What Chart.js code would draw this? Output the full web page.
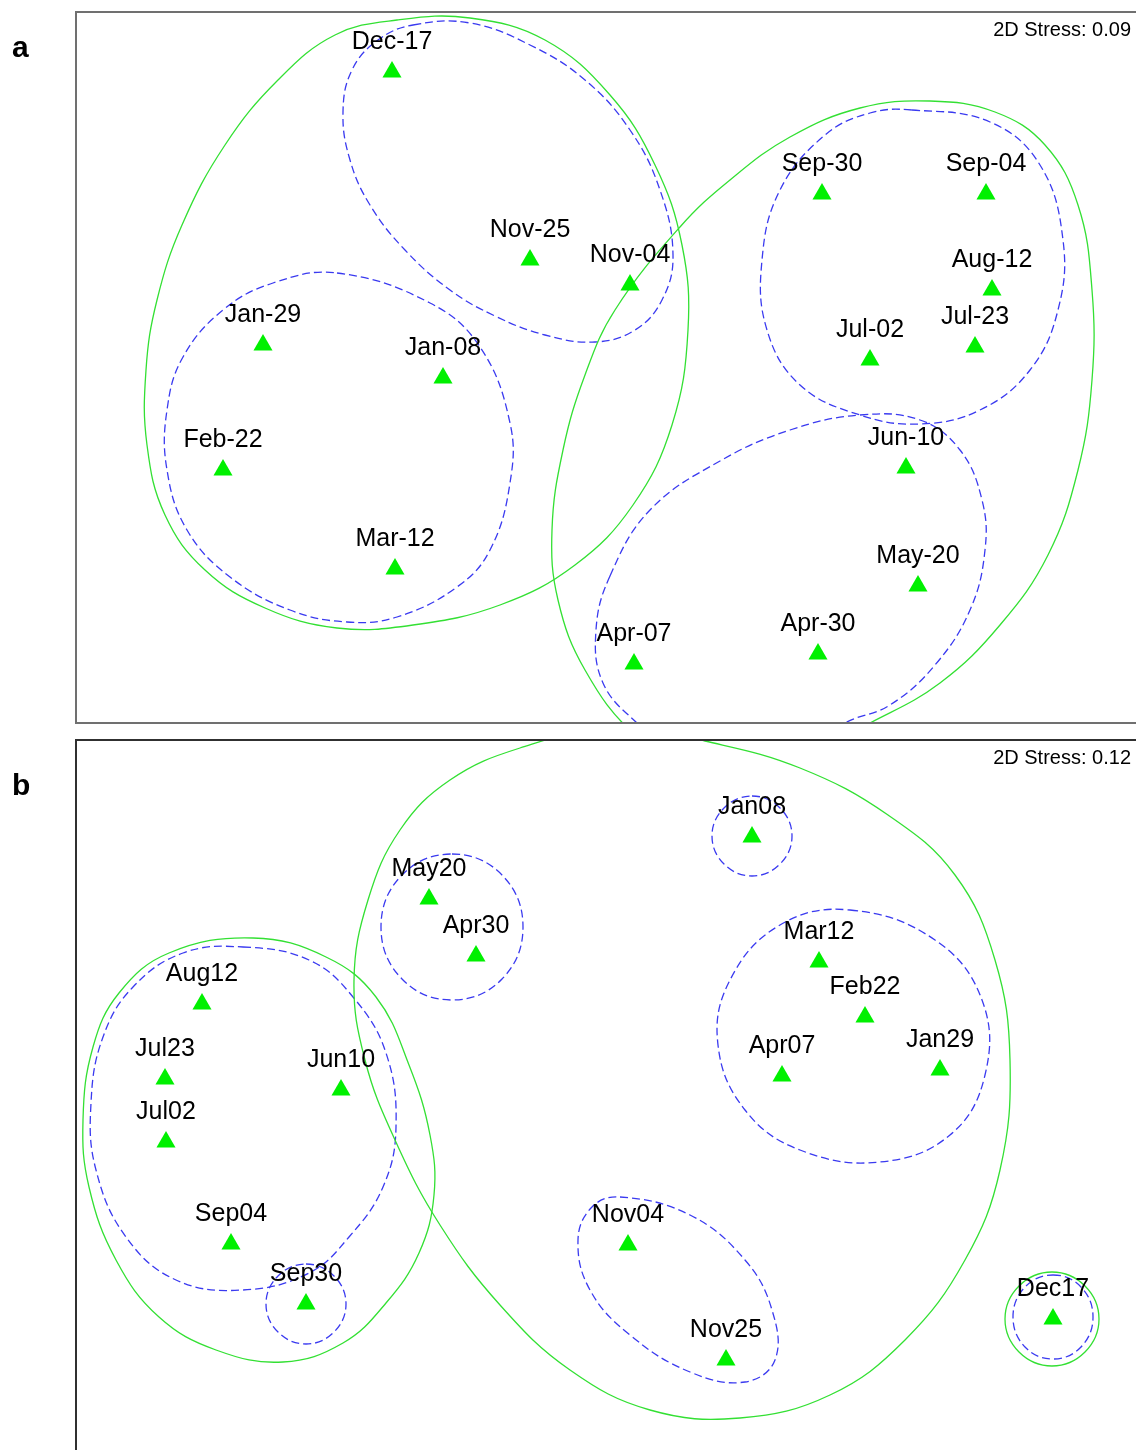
<!DOCTYPE html>
<html>
<head>
<meta charset="utf-8">
<script src="https://cdn.jsdelivr.net/npm/chart.js@4.4.1/dist/chart.umd.min.js"></script>
<style>
  body { margin: 0; background: #fff; }
  #wrap { position: relative; width: 1136px; height: 1450px; overflow: hidden; }
  canvas { position: absolute; left: 0; }
  #chartA { top: 0; }
  #chartB { top: 730px; }
</style>
</head>
<body>
<div id="wrap">
  <canvas id="chartA" width="1136" height="730"></canvas>
  <canvas id="chartB" width="1136" height="720"></canvas>
</div>
<script>
// NMDS ordination, panel a (positions, arbitrary units)
const aNames = ['Dec-17', 'Nov-25', 'Nov-04', 'Jan-29', 'Jan-08', 'Feb-22', 'Mar-12', 'Sep-30',
                'Sep-04', 'Aug-12', 'Jul-23', 'Jul-02', 'Jun-10', 'May-20', 'Apr-30', 'Apr-07'];
const aX = [392, 530, 630, 263, 443, 223, 395, 822, 986, 992, 975, 870, 906, 918, 818, 634];
const aY = [72, 260, 285, 345, 378, 470, 569, 194, 194, 290, 347, 360, 468, 586, 654, 664];

// panel b
const bNames = ['Jan08', 'May20', 'Apr30', 'Mar12', 'Feb22', 'Aug12', 'Jul23', 'Jun10',
                'Jul02', 'Apr07', 'Jan29', 'Sep04', 'Sep30', 'Nov04', 'Nov25', 'Dec17'];
const bX = [752, 429, 476, 819, 865, 202, 165, 341, 166, 782, 940, 231, 306, 628, 726, 1053];
const bY = [837, 899, 956, 962, 1017, 1004, 1079, 1090, 1142, 1076, 1070, 1244, 1304, 1245, 1360, 1319];

// similarity contours (outline points)
const aGreenLeft = [[335,35],[397,20],[470,18],[545,40],[610,95],[655,165],[682,245],[688,330],[672,425],
  [633,505],[575,565],[500,605],[413,625],[337,628],[265,608],[205,570],[165,515],[147,445],[146,370],
  [157,300],[182,225],[225,145],[278,80]];
const aGreenRight = [[680,227],[730,180],[790,137],[860,108],[930,101],[995,112],[1045,145],[1078,205],
  [1092,290],[1092,380],[1078,470],[1048,555],[1000,625],[940,683],[870,723],[790,762],[700,775],[635,735],
  [585,670],[558,600],[552,530],[563,450],[585,375],[615,310]];
const aBlueTop = [[413,25],[470,23],[530,45],[585,80],[630,130],[660,190],[673,255],[662,300],[635,330],
  [595,342],[545,335],[495,316],[450,290],[405,250],[370,205],[350,160],[343,112],[352,70],[378,40]];
const aBlueLeft = [[337,273],[430,303],[480,347],[510,423],[510,483],[490,550],[457,587],[397,617],[347,622],
  [290,610],[230,577],[187,530],[167,470],[167,410],[183,357],[223,310],[273,283]];
const aBlueRightTop = [[912,110],[990,122],[1040,165],[1063,240],[1058,310],[1030,370],[980,410],[920,424],
  [860,415],[800,385],[767,330],[762,260],[780,190],[825,135],[870,113]];
const aBlueRightBottom = [[610,576],[650,510],[720,461],[790,430],[860,415],[920,420],[960,450],[982,500],
  [985,550],[970,610],[935,665],[890,705],[845,723],[780,765],[700,775],[637,723],[603,683],[596,630]];

const bGreenBig = [[620,726],[705,741],[800,768],[888,815],[955,875],[995,960],[1010,1060],[1000,1170],
  [965,1260],[905,1340],[830,1395],[740,1418],[650,1410],[570,1370],[500,1305],[440,1225],[395,1140],
  [365,1060],[354,980],[368,900],[400,830],[450,780],[520,748]];
const bGreenLeft = [[253,938],[326,957],[376,997],[409,1065],[430,1135],[434,1195],[419,1253],[386,1303],
  [343,1343],[283,1362],[216,1350],[159,1317],[116,1260],[89,1187],[83,1120],[93,1047],[119,993],[169,953]];
const bBlueLeft = [[243,947],[309,960],[353,997],[386,1053],[396,1127],[383,1187],[349,1237],[309,1273],
  [243,1290],[176,1280],[126,1237],[96,1170],[91,1103],[103,1037],[133,987],[183,953]];
const bBlueSep30 = [[306,1264],[334,1276],[346,1304],[334,1332],[306,1344],[278,1332],[266,1304],[278,1276]];
const bBlueJan08 = [[752,796],[780,808],[792,836],[780,864],[752,876],[724,864],[712,836],[724,808]];
const bBlueMayApr = [[452,854],[502,875],[523,927],[502,979],[452,1000],[402,979],[381,927],[402,875]];
const bBlueMar = [[850,910],[935,940],[982,1000],[985,1075],[950,1135],[880,1162],[800,1150],[745,1110],
  [718,1045],[730,980],[780,925]];
const bBlueNov = [[620,1197],[690,1215],[745,1260],[772,1310],[775,1360],[745,1382],[690,1372],[630,1335],
  [590,1290],[578,1240],[592,1207]];
const bBlueDec = [[1053,1275],[1081,1287],[1093,1317],[1081,1347],[1053,1359],[1025,1347],[1013,1317],[1025,1287]];
const bGreenDec = [[1052,1272],[1085,1286],[1099,1319],[1085,1352],[1052,1366],[1019,1352],[1005,1319],[1019,1286]];

const GREEN_LINE = '#33e033';
const BLUE_LINE = '#3a3af0';
const MARKER = '#00f000';

// closed smooth outline: pad with neighbours so the spline joins cleanly, hide the padding segments
function contour(pts, color, dashed) {
  const n = pts.length;
  const seq = [pts[n - 1], ...pts, pts[0], pts[1]];
  return {
    data: seq.map(p => ({x: p[0], y: p[1]})),
    borderColor: color,
    borderWidth: 1.3,
    borderDash: dashed ? [8, 4] : [],
    pointRadius: 0,
    tension: 0.4,
    capBezierPoints: false,
    fill: false,
    order: 1,
    segment: {
      borderColor: c => (c.p0DataIndex === 0 || c.p0DataIndex === n + 1) ? 'rgba(0,0,0,0)' : undefined
    }
  };
}

function samples(xs, ys) {
  return {
    data: xs.map((x, i) => ({x: x, y: ys[i]})),
    showLine: false,
    pointStyle: 'triangle',
    pointRadius: 11,
    pointBackgroundColor: MARKER,
    pointBorderColor: MARKER,
    pointBorderWidth: 0,
    order: 0
  };
}

const nmdsDecor = {
  id: 'nmdsDecor',
  afterDatasetsDraw(chart, args, opts) {
    const ctx = chart.ctx;
    const a = chart.chartArea;
    ctx.save();
    // frame (right edge and, for b, bottom edge fall outside the figure)
    ctx.strokeStyle = opts.frameColor;
    ctx.lineWidth = 2;
    ctx.beginPath();
    ctx.moveTo(a.right + 5, a.top);
    ctx.lineTo(a.left, a.top);
    ctx.lineTo(a.left, a.bottom + (opts.closedBottom ? 0 : 5));
    if (opts.closedBottom) ctx.lineTo(a.right + 5, a.bottom);
    ctx.stroke();

    // sample labels above each triangle
    const meta = chart.getDatasetMeta(0);
    ctx.fillStyle = '#000';
    ctx.font = '25px "Liberation Sans", Arial, sans-serif';
    ctx.textAlign = 'center';
    ctx.textBaseline = 'alphabetic';
    meta.data.forEach((pt, i) => ctx.fillText(opts.names[i], pt.x, pt.y - 23));

    // stress value
    ctx.font = '20px "Liberation Sans", Arial, sans-serif';
    ctx.textAlign = 'right';
    ctx.fillText(opts.stress, a.right - 5, a.top + 24);

    // panel letter
    ctx.font = 'bold 30px "Liberation Sans", Arial, sans-serif';
    ctx.textAlign = 'left';
    ctx.fillText(opts.letter, 12, opts.letterY);
    ctx.restore();
  }
};

function makeChart(id, points, outlines, yMin, yMax, padding, decor) {
  return new Chart(document.getElementById(id), {
    type: 'line',
    data: { datasets: [points, ...outlines] },
    options: {
      responsive: false,
      animation: false,
      events: [],
      layout: { padding: padding, autoPadding: false },
      scales: {
        x: { type: 'linear', min: 76, max: 1136, display: false },
        y: { type: 'linear', min: yMin, max: yMax, reverse: true, display: false }
      },
      plugins: {
        legend: { display: false },
        tooltip: { enabled: false },
        nmdsDecor: decor
      }
    },
    plugins: [nmdsDecor]
  });
}

makeChart('chartA', samples(aX, aY), [
  contour(aGreenLeft, GREEN_LINE, false),
  contour(aGreenRight, GREEN_LINE, false),
  contour(aBlueTop, BLUE_LINE, true),
  contour(aBlueLeft, BLUE_LINE, true),
  contour(aBlueRightTop, BLUE_LINE, true),
  contour(aBlueRightBottom, BLUE_LINE, true)
], 12, 723, {left: 76, top: 12, right: 0, bottom: 7},
  {names: aNames, stress: '2D Stress: 0.09', letter: 'a', letterY: 57, frameColor: '#707070', closedBottom: true});

makeChart('chartB', samples(bX, bY), [
  contour(bGreenBig, GREEN_LINE, false),
  contour(bGreenLeft, GREEN_LINE, false),
  contour(bGreenDec, GREEN_LINE, false),
  contour(bBlueLeft, BLUE_LINE, true),
  contour(bBlueSep30, BLUE_LINE, true),
  contour(bBlueJan08, BLUE_LINE, true),
  contour(bBlueMayApr, BLUE_LINE, true),
  contour(bBlueMar, BLUE_LINE, true),
  contour(bBlueNov, BLUE_LINE, true),
  contour(bBlueDec, BLUE_LINE, true)
], 740, 1450, {left: 76, top: 10, right: 0, bottom: 0},
  {names: bNames, stress: '2D Stress: 0.12', letter: 'b', letterY: 65, frameColor: '#303030', closedBottom: false});
</script>
</body>
</html>
